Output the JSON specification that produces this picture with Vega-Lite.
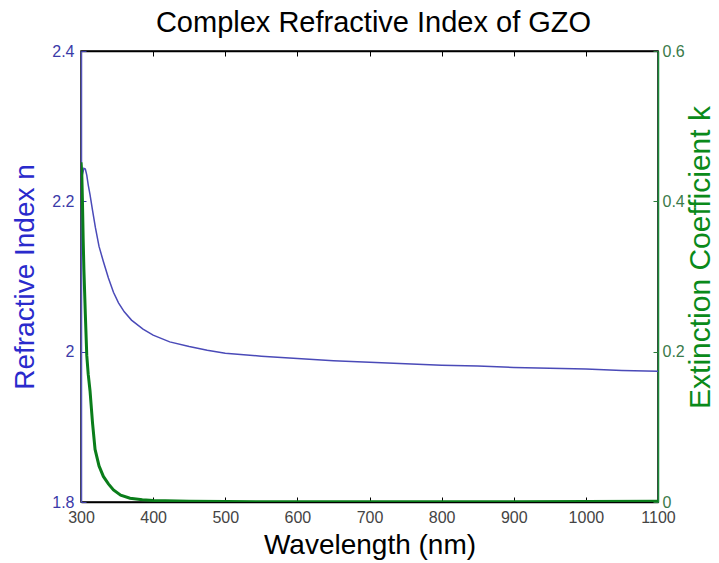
{
  "$schema": "https://vega.github.io/schema/vega-lite/v6.json",
  "width": 577,
  "height": 451,
  "autosize": "none",
  "padding": {"left": 81, "top": 51, "right": 61, "bottom": 61},
  "background": "white",
  "config": {
    "view": {"stroke": "black", "strokeWidth": 1.5},
    "font": "Liberation Sans",
    "axis": {"grid": false, "labelFlush": false, "labelFont": "Liberation Sans", "titleFont": "Liberation Sans", "titleFontWeight": "normal", "labelFontSize": 16, "titleFontSize": 24}
  },
  "title": {"text": "Complex Refractive Index of GZO", "fontSize": 29, "fontWeight": "normal", "font": "Liberation Sans", "color": "black", "offset": 5, "anchor": "middle", "dx": 4},
  "datasets": {
    "n": [
      {"wl": 300, "n": 2.22}, {"wl": 302, "n": 2.236}, {"wl": 304, "n": 2.244}, {"wl": 306, "n": 2.243},
      {"wl": 308, "n": 2.235}, {"wl": 310, "n": 2.222}, {"wl": 312.5, "n": 2.209}, {"wl": 316, "n": 2.188},
      {"wl": 320, "n": 2.165}, {"wl": 325, "n": 2.14}, {"wl": 331, "n": 2.12}, {"wl": 338, "n": 2.098},
      {"wl": 345, "n": 2.079}, {"wl": 352, "n": 2.065}, {"wl": 360, "n": 2.053}, {"wl": 370, "n": 2.042},
      {"wl": 386, "n": 2.03}, {"wl": 400, "n": 2.022}, {"wl": 423, "n": 2.013}, {"wl": 450, "n": 2.007},
      {"wl": 475, "n": 2.002}, {"wl": 500, "n": 1.998}, {"wl": 550, "n": 1.994}, {"wl": 600, "n": 1.991},
      {"wl": 650, "n": 1.988}, {"wl": 700, "n": 1.986}, {"wl": 750, "n": 1.984}, {"wl": 800, "n": 1.982},
      {"wl": 850, "n": 1.981}, {"wl": 900, "n": 1.979}, {"wl": 950, "n": 1.978}, {"wl": 1000, "n": 1.977},
      {"wl": 1050, "n": 1.975}, {"wl": 1100, "n": 1.974}
    ],
    "k": [
      {"wl": 300, "k": 0.452}, {"wl": 301, "k": 0.44}, {"wl": 302, "k": 0.4}, {"wl": 303, "k": 0.35},
      {"wl": 304, "k": 0.31}, {"wl": 305, "k": 0.28}, {"wl": 306, "k": 0.25}, {"wl": 308, "k": 0.195},
      {"wl": 310, "k": 0.17}, {"wl": 312.5, "k": 0.148}, {"wl": 316, "k": 0.105}, {"wl": 319.5, "k": 0.07},
      {"wl": 325, "k": 0.048}, {"wl": 331, "k": 0.034}, {"wl": 338, "k": 0.024}, {"wl": 345, "k": 0.016},
      {"wl": 355, "k": 0.009}, {"wl": 368, "k": 0.005}, {"wl": 385, "k": 0.003}, {"wl": 400, "k": 0.002},
      {"wl": 450, "k": 0.001}, {"wl": 500, "k": 0.0005}, {"wl": 600, "k": 0.0003}, {"wl": 700, "k": 0.0002},
      {"wl": 800, "k": 0.0002}, {"wl": 900, "k": 0.0003}, {"wl": 1000, "k": 0.0006}, {"wl": 1100, "k": 0.001}
    ]
  },
  "layer": [
    {
      "data": {"name": "n"},
      "mark": {"type": "line", "color": "#4a4ab8", "strokeWidth": 1.5, "clip": true},
      "encoding": {
        "x": {"field": "wl", "type": "quantitative", "scale": {"domain": [300, 1100], "nice": false, "zero": false},
          "axis": {"title": "Wavelength (nm)", "values": [300, 400, 500, 600, 700, 800, 900, 1000, 1100], "format": "d", "tickSize": -5, "tickColor": "black", "domainColor": "black", "domainWidth": 1.5, "labelColor": "#444444", "labelPadding": 12, "titleColor": "black", "titleFontSize": 28, "titlePadding": 6}},
        "y": {"field": "n", "type": "quantitative", "scale": {"domain": [1.8, 2.4], "nice": false, "zero": false},
          "axis": {"title": "Refractive Index n", "orient": "left", "values": [1.8, 2.0, 2.2, 2.4], "format": "~g", "tickSize": -5, "tickColor": "#3a3aa8", "domainColor": "#5555bb", "domainWidth": 1.5, "labelColor": "#3a3aa8", "labelPadding": 12, "titleColor": "#2a2acc", "titleFontSize": 28, "titlePadding": 12}}
      }
    },
    {
      "data": {"name": "k"},
      "mark": {"type": "line", "color": "#0a7d1a", "strokeWidth": 3, "clip": true},
      "encoding": {
        "x": {"field": "wl", "type": "quantitative", "scale": {"domain": [300, 1100], "nice": false, "zero": false},
          "axis": {"orient": "top", "title": null, "labels": false, "values": [300, 400, 500, 600, 700, 800, 900, 1000, 1100], "tickSize": -5, "tickColor": "black", "domainColor": "black", "domainWidth": 1.5}},
        "y": {"field": "k", "type": "quantitative", "scale": {"domain": [0, 0.6], "nice": false},
          "axis": {"title": "Extinction Coefficient k", "orient": "right", "values": [0, 0.2, 0.4, 0.6], "format": "~g", "tickSize": -5, "tickColor": "#2a7a3a", "domainColor": "#1a8a3a", "domainWidth": 1.5, "labelColor": "#3a7a4a", "labelPadding": 9, "titleColor": "#0a8a1a", "titleFontSize": 30, "titleAngle": 270, "titleBaseline": "top", "titlePadding": 1, "titleY": 206}}
      }
    }
  ],
  "resolve": {"scale": {"y": "independent"}, "axis": {"x": "independent", "y": "independent"}}
}
